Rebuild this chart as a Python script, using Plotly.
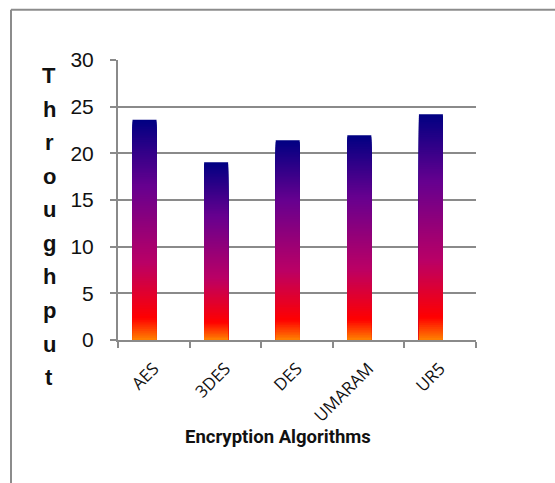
import plotly.graph_objects as go

# Throughput of each encryption algorithm
algorithms = ["AES", "3DES", "DES", "UMARAM", "UR5"]
throughput = [23.6, 19.05, 21.4, 21.95, 24.2]
y_ticks = [0, 5, 10, 15, 20, 25, 30]
axis_letters = list("Throughput")

# Vertical gradient used to fill every bar (position measured from the top)
gradient_stops = [
    (0.00, (0x00, 0x00, 0x82)),
    (0.30, (0x66, 0x00, 0x8F)),
    (0.65, (0xBA, 0x00, 0x66)),
    (0.90, (0xFF, 0x00, 0x00)),
    (1.00, (0xFF, 0x82, 0x00)),
]

W, H = 555, 483
L, R, T, B = 118, 79, 59.5, 142.5


def colour_at(t):
    for (p0, c0), (p1, c1) in zip(gradient_stops[:-1], gradient_stops[1:]):
        if p0 <= t <= p1:
            f = (t - p0) / (p1 - p0) if p1 > p0 else 0
            r, g, b = (round(a + (b_ - a) * f) for a, b_ in zip(c0, c1))
            return f"rgb({r},{g},{b})"
    return "rgb(255,130,0)"


def px_x(x):
    return (x - L) / (W - L - R)


def px_y(y):
    return 1 - (y - T) / (H - T - B)


fig = go.Figure()

# Overlaid bars of decreasing height build the gradient fill without seams
N = 120
for i in range(N):
    frac = (N - i) / N
    fig.add_trace(go.Bar(
        x=algorithms,
        y=[v * frac for v in throughput],
        width=0.335,
        offset=-0.297,
        marker=dict(color=colour_at(1 - frac + 0.5 / N), line=dict(width=0)),
        hoverinfo="skip" if i else None,
        showlegend=False,
    ))

grid = "#8a8a8a"
fig.update_layout(
    width=W, height=H,
    margin=dict(l=L, r=R, t=T, b=B),
    barmode="overlay",
    paper_bgcolor="white",
    plot_bgcolor="white",
    showlegend=False,
    xaxis=dict(
        type="category",
        range=[-0.5, len(algorithms) - 0.5],
        showline=True, linecolor=grid, linewidth=2,
        ticks="outside", tickson="boundaries", ticklen=6, tickcolor=grid, tickwidth=2,
        tickangle=-45,
        tickfont=dict(family="Open Sans", size=17, color="#111"),
        ticklabelstandoff=10,
        showgrid=False,
    ),
    yaxis=dict(
        range=[0, 30],
        tickvals=y_ticks,
        showline=True, linecolor=grid, linewidth=2,
        ticks="outside", ticklen=6, tickcolor=grid, tickwidth=2,
        showgrid=True, gridcolor=grid, gridwidth=2,
        zeroline=False,
        tickfont=dict(family="Liberation Sans, Arial", size=21, color="#111"),
        ticklabelstandoff=12,
    ),
)

# Outer chart frame (top and left edges)
fig.add_shape(type="line", xref="paper", yref="paper",
              x0=px_x(11), x1=px_x(W + 5), y0=px_y(9), y1=px_y(9),
              line=dict(color="#8c8c8c", width=2))
fig.add_shape(type="line", xref="paper", yref="paper",
              x0=px_x(11), x1=px_x(11), y0=px_y(9), y1=px_y(H + 5),
              line=dict(color="#8c8c8c", width=2))

# Vertical, letter-by-letter y-axis title
for k, ch in enumerate(axis_letters):
    fig.add_annotation(
        x=px_x(49), y=px_y(75 + 33.7 * k), xref="paper", yref="paper",
        text=f"<b>{ch}</b>", showarrow=False,
        xanchor="center", yanchor="middle",
        font=dict(family="Liberation Sans, Arial", size=22, color="#111"),
    )

# X-axis title
fig.add_annotation(
    x=px_x(278), y=px_y(438), xref="paper", yref="paper",
    text="<b>Encryption Algorithms</b>", showarrow=False,
    xanchor="center", yanchor="middle",
    font=dict(family="Roboto", size=18.5, color="#111"),
)

fig.write_html("out.html")
